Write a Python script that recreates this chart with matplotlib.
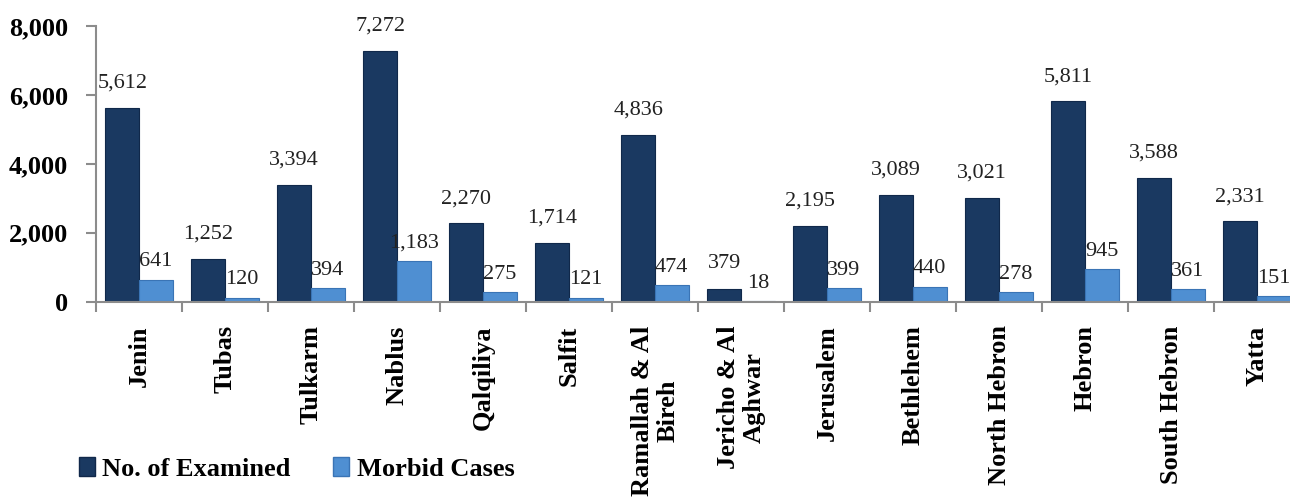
import matplotlib.pyplot as plt
import numpy as np
from matplotlib.patches import Patch

districts = ["Jenin", "Tubas", "Tulkarm", "Nablus", "Qalqiliya", "Salfit",
             "Ramallah & Al\nBireh", "Jericho & Al\nAghwar", "Jerusalem",
             "Bethlehem", "North Hebron", "Hebron", "South Hebron", "Yatta"]
examined = [5612, 1252, 3394, 7272, 2270, 1714, 4836, 379, 2195, 3089, 3021, 5811, 3588, 2331]
morbid = [641, 120, 394, 1183, 275, 121, 474, 18, 399, 440, 278, 945, 361, 151]
yticks = [0, 2000, 4000, 6000, 8000]

dark = "#1a3961"
light = "#4f8fd2"
gray = "#8c8c8c"

plt.rcParams["font.family"] = ["Liberation Serif", "DejaVu Serif"]

fig = plt.figure(figsize=(12.9, 5.03), dpi=100)
ax = fig.add_axes([96 / 1290, 1 - 301.7 / 503, 1204 / 1290, 275.7 / 503])

x = np.arange(len(districts))
w = 0.39
ax.bar(x - w / 2, examined, w, color=dark, edgecolor="#10284a", linewidth=0.8)
ax.bar(x + w / 2, morbid, w, color=light, edgecolor="#3a74b5", linewidth=0.8)

for xi, v in zip(x, examined):
    ax.annotate(f"{v:,}", (xi - w / 2, v), xytext=(0, 11), textcoords="offset points",
                ha="center", va="bottom", fontsize=16, color="#222222")
for xi, v in zip(x, morbid):
    ax.annotate(f"{v:,}", (xi + w / 2, v), xytext=(0, 6), textcoords="offset points",
                ha="center", va="bottom", fontsize=16, color="#222222")

ax.set_xlim(-0.5, len(districts) - 0.5)
ax.set_ylim(0, 8000)
ax.set_yticks(yticks)
ax.set_yticklabels([f"{t:,}" for t in yticks], fontsize=19, fontweight="bold")
ax.tick_params(axis="y", length=7, pad=13, color=gray, width=1.5)

ax.set_xticks(np.arange(len(districts) + 1) - 0.5)
ax.set_xticklabels([])
ax.tick_params(axis="x", which="major", length=7, color=gray, width=1.5)
ax.set_xticks(x, minor=True)
ax.set_xticklabels(districts, minor=True, rotation=90, fontsize=19, fontweight="bold",
                   va="top", ha="center", linespacing=1.15)
ax.tick_params(axis="x", which="minor", length=0, pad=17)

for s in ["top", "right"]:
    ax.spines[s].set_visible(False)
for s in ["left", "bottom"]:
    ax.spines[s].set_color(gray)
    ax.spines[s].set_linewidth(1.5)

handles = [Patch(facecolor=dark, edgecolor="#10284a"), Patch(facecolor=light, edgecolor="#3a74b5")]
fig.legend(handles, ["No. of Examined", "Morbid Cases"], loc="center left",
           bbox_to_anchor=(0.061, 0.068), ncol=2, frameon=False,
           prop={"size": 19, "weight": "bold"}, handlelength=0.6, handleheight=0.7,
           handletextpad=0.3, columnspacing=1.6, borderpad=0, borderaxespad=0)

fig.savefig("out.png", dpi=100)
